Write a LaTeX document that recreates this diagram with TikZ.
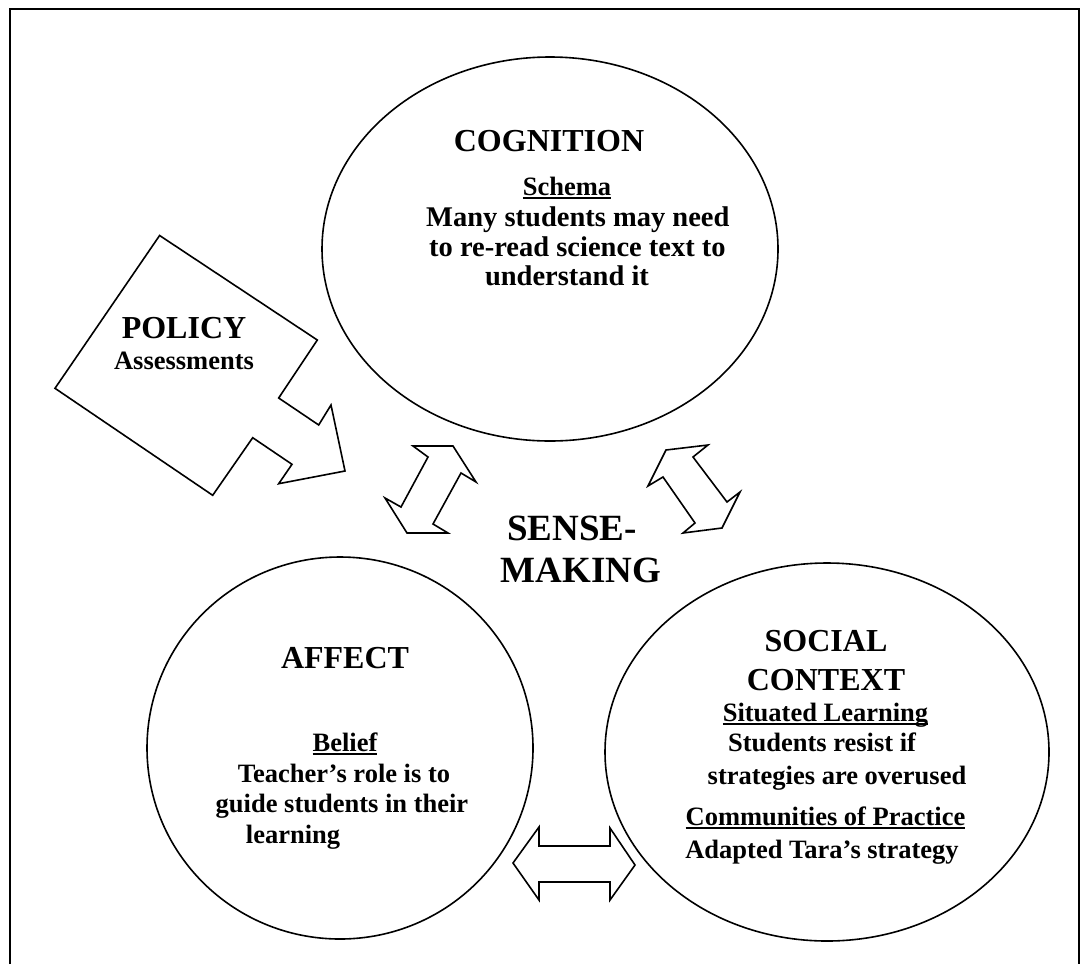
\documentclass[tikz,border=0pt]{standalone}
\usepackage{fontspec}
\setmainfont{Liberation Serif}
\usetikzlibrary{positioning, shapes.geometric}

\newcommand{\hdfont}{\fontsize{32}{36}\selectfont\bfseries}
\newcommand{\bdfont}{\fontsize{26.5}{31}\selectfont\bfseries}
\newcommand{\undl}[1]{\setbox0\hbox{#1}\rlap{\rule[-3.5pt]{\wd0}{1.6pt}}\box0}

\begin{document}
\begin{tikzpicture}[x=1pt, y=-1pt, line join=miter, every node/.style={inner sep=0pt}]%
    \tikzstyle{circ} = [ ellipse, draw, line width = 1.6pt, inner sep = 0pt]
    \tikzstyle{blk} = [ draw, line width = 1.6pt, fill = white]
    \tikzstyle{head} = [ font = \hdfont, anchor = base]
    \tikzstyle{txt} = [ font = \bdfont, anchor = base]
    \tikzstyle{ctxt} = [ font = \fontsize{28.5}{31}\selectfont\bfseries, anchor = base]
    \tikzstyle{big} = [ font = \fontsize{37}{42}\selectfont\bfseries, anchor = base]

    \useasboundingbox (0,0) rectangle (1083,964);
    \draw[line width = 1.5pt] (10,964) -- (10,9) -- (1079,9) -- (1079,964);

    %% Circles
    \node [circ, minimum width = 456pt, minimum height = 384pt] (cog) at (550,249) {};
    \node [circ, minimum width = 386pt, minimum height = 382pt] (aff) at (340,748) {};
    \node [circ, minimum width = 444pt, minimum height = 378pt] (soc) at (827,752) {};

    %% Policy
    \draw[blk] (159.6,235.5) -- (55,388.3) -- (212.7,495.3) -- (252.7,437.7) -- (292,464.3)
        -- (278.7,483.7) -- (345,471) -- (331,405) -- (318.7,425) -- (278.7,398) -- (317.3,340) -- cycle;
    \node [head] (pol) at (184,338) {POLICY};
    \node [txt] (ass) at (184,369) {Assessments};

    %% Two-way arrows
    \draw[blk] (413,446) -- (453,446) -- (476,482) -- (461,473) -- (433,524) -- (448,533)
        -- (407,533) -- (385,498) -- (401,507) -- (428,457) -- cycle;
    \draw[blk] (648,486) -- (666,450) -- (708,445) -- (693,457) -- (727,502) -- (740,492)
        -- (722,528) -- (683,533) -- (695,523) -- (663,477) -- cycle;
    \draw[blk] (513,863) -- (539,827) -- (539,846) -- (610,846) -- (610,828) -- (635,865)
        -- (610,900) -- (610,882) -- (539,882) -- (539,900) -- cycle;

    %% Sense-making
    \node [big] (sm1) at (572,540) {SENSE-};
    \node [big] (sm2) at (581,582) {MAKING};

    %% Cognition
    \node [head] (cogt) at (549,151) {COGNITION};
    \node [txt] (schema) at (567,195) {\undl{Schema}};
    \begin{scope}
        \clip (400,190) rectangle (742,300);
        \node [ctxt, anchor = base west] (cog1) at (426,226) {Many students may need};
        \node [ctxt, anchor = base west] (cog2) at (429,256) {to re-read science text to};
    \end{scope}
    \node [ctxt] (cog3) at (567,285) {understand it};

    %% Affect
    \node [head] (afft) at (345,668) {AFFECT};
    \node [txt] (belief) at (345,751) {\undl{Belief}};
    \node [txt] (aff1) at (344,782) {Teacher’s role is to};
    \node [txt] (aff2) at (342,812) {guide students in their};
    \node [txt] (aff3) at (293,843) {learning};

    %% Social context
    \node [head] (soct1) at (826,651) {SOCIAL};
    \node [head] (soct2) at (826,690) {CONTEXT};
    \node [txt] (sit) at (825.5,721) {\undl{Situated Learning}};
    \node [txt] (soc1) at (822,751) {Students resist if};
    \node [txt] (soc2) at (837,784) {strategies are overused};
    \node [txt] (cop) at (825.5,825) {\undl{Communities of Practice}};
    \node [txt] (soc3) at (822,858) {Adapted Tara’s strategy};
\end{tikzpicture}
\end{document}
